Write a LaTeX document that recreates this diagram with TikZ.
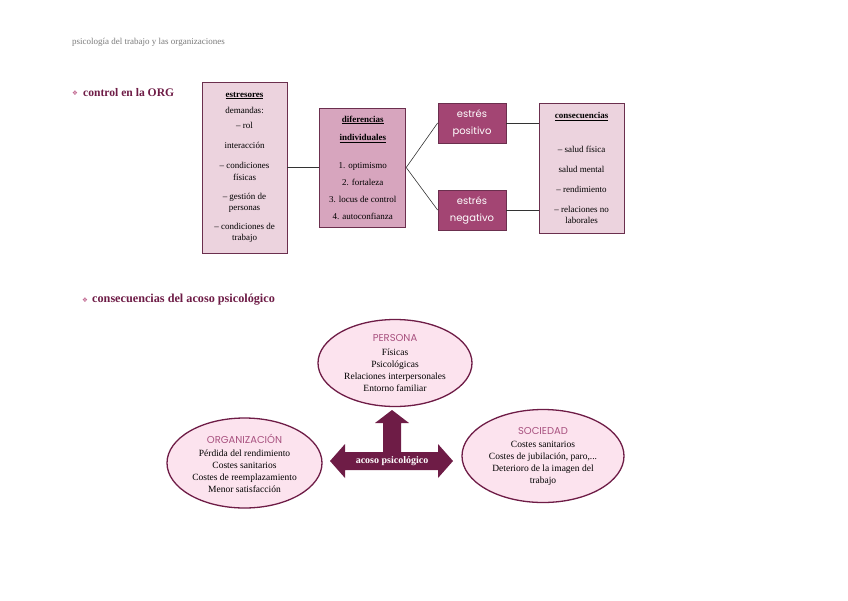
\documentclass[tikz,border=0pt]{standalone}
\usepackage{fontspec}
\setmainfont{Liberation Serif}
\newfontfamily\titfont{Poppins}
\newfontfamily\symfont{DejaVu Sans}
\usepackage{tikz}
\usetikzlibrary{shapes,arrows,positioning}
\definecolor{granate}{HTML}{6E1C46}
\definecolor{borde}{HTML}{6B2F4E}
\definecolor{rosaclaro}{HTML}{ECD3DE}
\definecolor{rosamedio}{HTML}{D7A5BE}
\definecolor{malva}{HTML}{A34573}
\definecolor{rosaelip}{HTML}{FCE3EE}
\definecolor{titrosa}{HTML}{A8517F}
\definecolor{gristxt}{HTML}{7A7A7A}
\definecolor{vineta}{HTML}{C0668F}
\newcommand{\elipt}[1]{{\titfont\fontsize{10}{12}\selectfont\color{titrosa}#1}}

\begin{document}
\begin{tikzpicture}[x=1pt, y=-1pt,
    caja/.style={rectangle, draw=borde, line width=0.8pt, inner sep=0pt, align=center, font=\fontsize{9}{11.2}\selectfont},
    claro/.style={caja, fill=rosaclaro},
    medio/.style={caja, fill=rosamedio},
    estres/.style={caja, fill=malva, text=white, minimum width=68pt, minimum height=40pt, font=\titfont\fontsize{10}{17}\selectfont},
    elip/.style={ellipse, draw=granate, line width=1.3pt, fill=rosaelip, inner sep=0pt},
    eliptx/.style={align=center, inner sep=0pt, font=\fontsize{9.5}{12}\selectfont},
    tit/.style={anchor=west, inner sep=0pt, text=granate, font=\bfseries\fontsize{11.6}{14}\selectfont},
    vin/.style={text=vineta, font=\symfont\fontsize{6.5}{7}\selectfont},
    lin/.style={draw=black!80, line width=0.6pt}]
    \useasboundingbox (0,0) rectangle (848,600);
    \node [anchor=west, inner sep=0pt, text=gristxt, font=\fontsize{9}{10}\selectfont] (cab) at (72,42) {psicología del trabajo y las organizaciones};
    \node [vin] (vin1) at (75,93) {❖};
    \node [tit] (tit1) at (83,93) {control en la ORG};
    \node [vin] (vin2) at (85,300) {❖};
    \node [tit, font=\bfseries\fontsize{12.2}{14}\selectfont] (tit2) at (92,300) {consecuencias del acoso psicológico};
    \node [claro, minimum width=85pt, minimum height=171pt] (estr) at (244.5,167.5) {\underline{\textbf{estresores}}\\[5pt] demandas:\\[4pt] – rol\\[9pt] interacción\\[9pt] – condiciones\\ físicas\\[8pt] – gestión de\\ personas\\[8pt] – condiciones de\\ trabajo};
    \node [medio, minimum width=86pt, minimum height=119pt, right=32pt of estr] (dif) {\underline{\textbf{diferencias}}\\[7pt] \underline{\textbf{individuales}}\\[17pt] 1. optimismo\\[6pt] 2. fortaleza\\[6pt] 3. locus de control\\[5pt] 4. autoconfianza};
    \node [estres] (pos) at (472,123) {estrés\\ positivo};
    \node [estres] (neg) at (472,210) {estrés\\ negativo};
    \node [claro, minimum width=85pt, minimum height=130pt] (cons) at (581.5,168) {\underline{\textbf{consecuencias}}\\[23pt] – salud física\\[9pt] salud mental\\[8pt] – rendimiento\\[9pt] – relaciones no\\ laborales};
    \draw [lin] (estr) -- (dif);
    \draw [lin] (dif.east) -- (pos.west);
    \draw [lin] (dif.east) -- (neg.west);
    \draw [lin] (pos) -- (pos -| cons.west);
    \draw [lin] (neg) -- (neg -| cons.west);
    \node [elip, minimum width=154pt, minimum height=87pt] (persona) at (395,363) {};
    \node [eliptx] (personatx) at (persona) {\elipt{PERSONA}\\[2pt] Físicas\\ Psicológicas\\ Relaciones interpersonales\\ Entorno familiar};
    \node [elip, minimum width=155pt, minimum height=90pt] (org) at (244.5,463) {};
    \node [eliptx] (orgtx) at (org) {\elipt{ORGANIZACIÓN}\\[1pt] Pérdida del rendimiento\\ Costes sanitarios\\ Costes de reemplazamiento\\ Menor satisfacción};
    \node [elip, minimum width=162pt, minimum height=93pt] (soc) at (543,456) {};
    \node [eliptx] (soctx) at (soc) {\elipt{SOCIEDAD}\\[1pt] Costes sanitarios\\ Costes de jubilación, paro,...\\ Deterioro de la imagen del\\ trabajo};
    \fill [granate] (330,461) -- (345,444) -- (345,452) -- (383,452) -- (383,423) -- (375,423) -- (392,410) -- (409,423) -- (401,423) -- (401,452) -- (438,452) -- (438,444) -- (453,461) -- (438,478) -- (438,470) -- (345,470) -- (345,478) -- cycle;
    \node [text=white, font=\bfseries\fontsize{10}{12}\selectfont] (acoso) at (392,461) {acoso psicológico};
\end{tikzpicture}
\end{document}
